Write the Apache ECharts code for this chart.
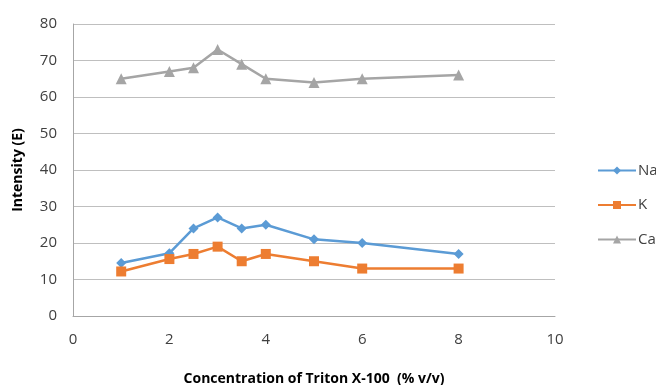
<!DOCTYPE html>
<html><head><meta charset="utf-8">
<script src="https://cdn.jsdelivr.net/npm/echarts@6/dist/echarts.min.js"></script>
<style>html,body{margin:0;padding:0;background:#fff}#c{width:656px;height:385px}</style>
</head><body><div id="c"></div>
<script>
const xValues = [1, 2, 2.5, 3, 3.5, 4, 5, 6, 8];
const naValues = [14.5, 17.2, 24, 27, 24, 25, 21, 20, 17];
const kValues = [12.2, 15.6, 17, 19, 15, 17, 15, 13, 13];
const caValues = [65, 67, 68, 73, 69, 65, 64, 65, 66];
const seriesNames = ['Na', 'K', 'Ca'];
const xTicks = [0, 2, 4, 6, 8, 10];
const yTicks = [0, 10, 20, 30, 40, 50, 60, 70, 80];

const pairs = v => xValues.map((x, i) => [x, v[i]]);
const font = '"Open Sans", "Liberation Sans", sans-serif';
const chart = echarts.init(document.getElementById('c'));
const mk = (name, data, color, symbol, size) => ({
  name, type: 'line', data: pairs(data), symbol, symbolSize: size,
  lineStyle: {color, width: 2.5}, itemStyle: {color}, animation: false
});
chart.setOption({
  animation: false,
  textStyle: {fontFamily: font},
  grid: {left: 73, right: 101, top: 24, bottom: 69, outerBoundsMode: 'none', containLabel: false},
  legend: {
    orient: 'vertical', left: 592, top: 158, itemGap: 19.5, itemWidth: 38, itemHeight: 10,
    textStyle: {color: '#404040', fontSize: 15, fontFamily: font, padding: [0, 0, 0, -3]},
    data: seriesNames
  },
  xAxis: {
    type: 'value', min: xTicks[0], max: xTicks[xTicks.length - 1], interval: 2,
    name: 'Concentration of Triton X-100  (% v/v)', nameLocation: 'middle', nameGap: 56,
    nameTextStyle: {fontWeight: 'bold', fontSize: 14, color: '#000', fontFamily: font},
    axisLine: {lineStyle: {color: '#a6a6a6'}}, axisTick: {show: false},
    axisLabel: {color: '#404040', fontSize: 15, margin: 16, fontFamily: font},
    splitLine: {show: false}
  },
  yAxis: {
    type: 'value', min: yTicks[0], max: yTicks[yTicks.length - 1], interval: 10,
    name: 'Intensity (E)', nameLocation: 'middle', nameGap: 48, nameRotate: 90,
    nameTextStyle: {fontWeight: 'bold', fontSize: 14, color: '#000', fontFamily: font},
    axisLine: {show: true, lineStyle: {color: '#a6a6a6'}}, axisTick: {show: false},
    axisLabel: {color: '#404040', fontSize: 15, margin: 16, fontFamily: font},
    splitLine: {lineStyle: {color: '#bfbfbf'}}
  },
  series: [
    mk('Na', naValues, '#5B9BD5', 'diamond', 10),
    mk('K', kValues, '#ED7D31', 'rect', 10),
    mk('Ca', caValues, '#A5A5A5', 'triangle', 11)
  ]
});
</script></body></html>
